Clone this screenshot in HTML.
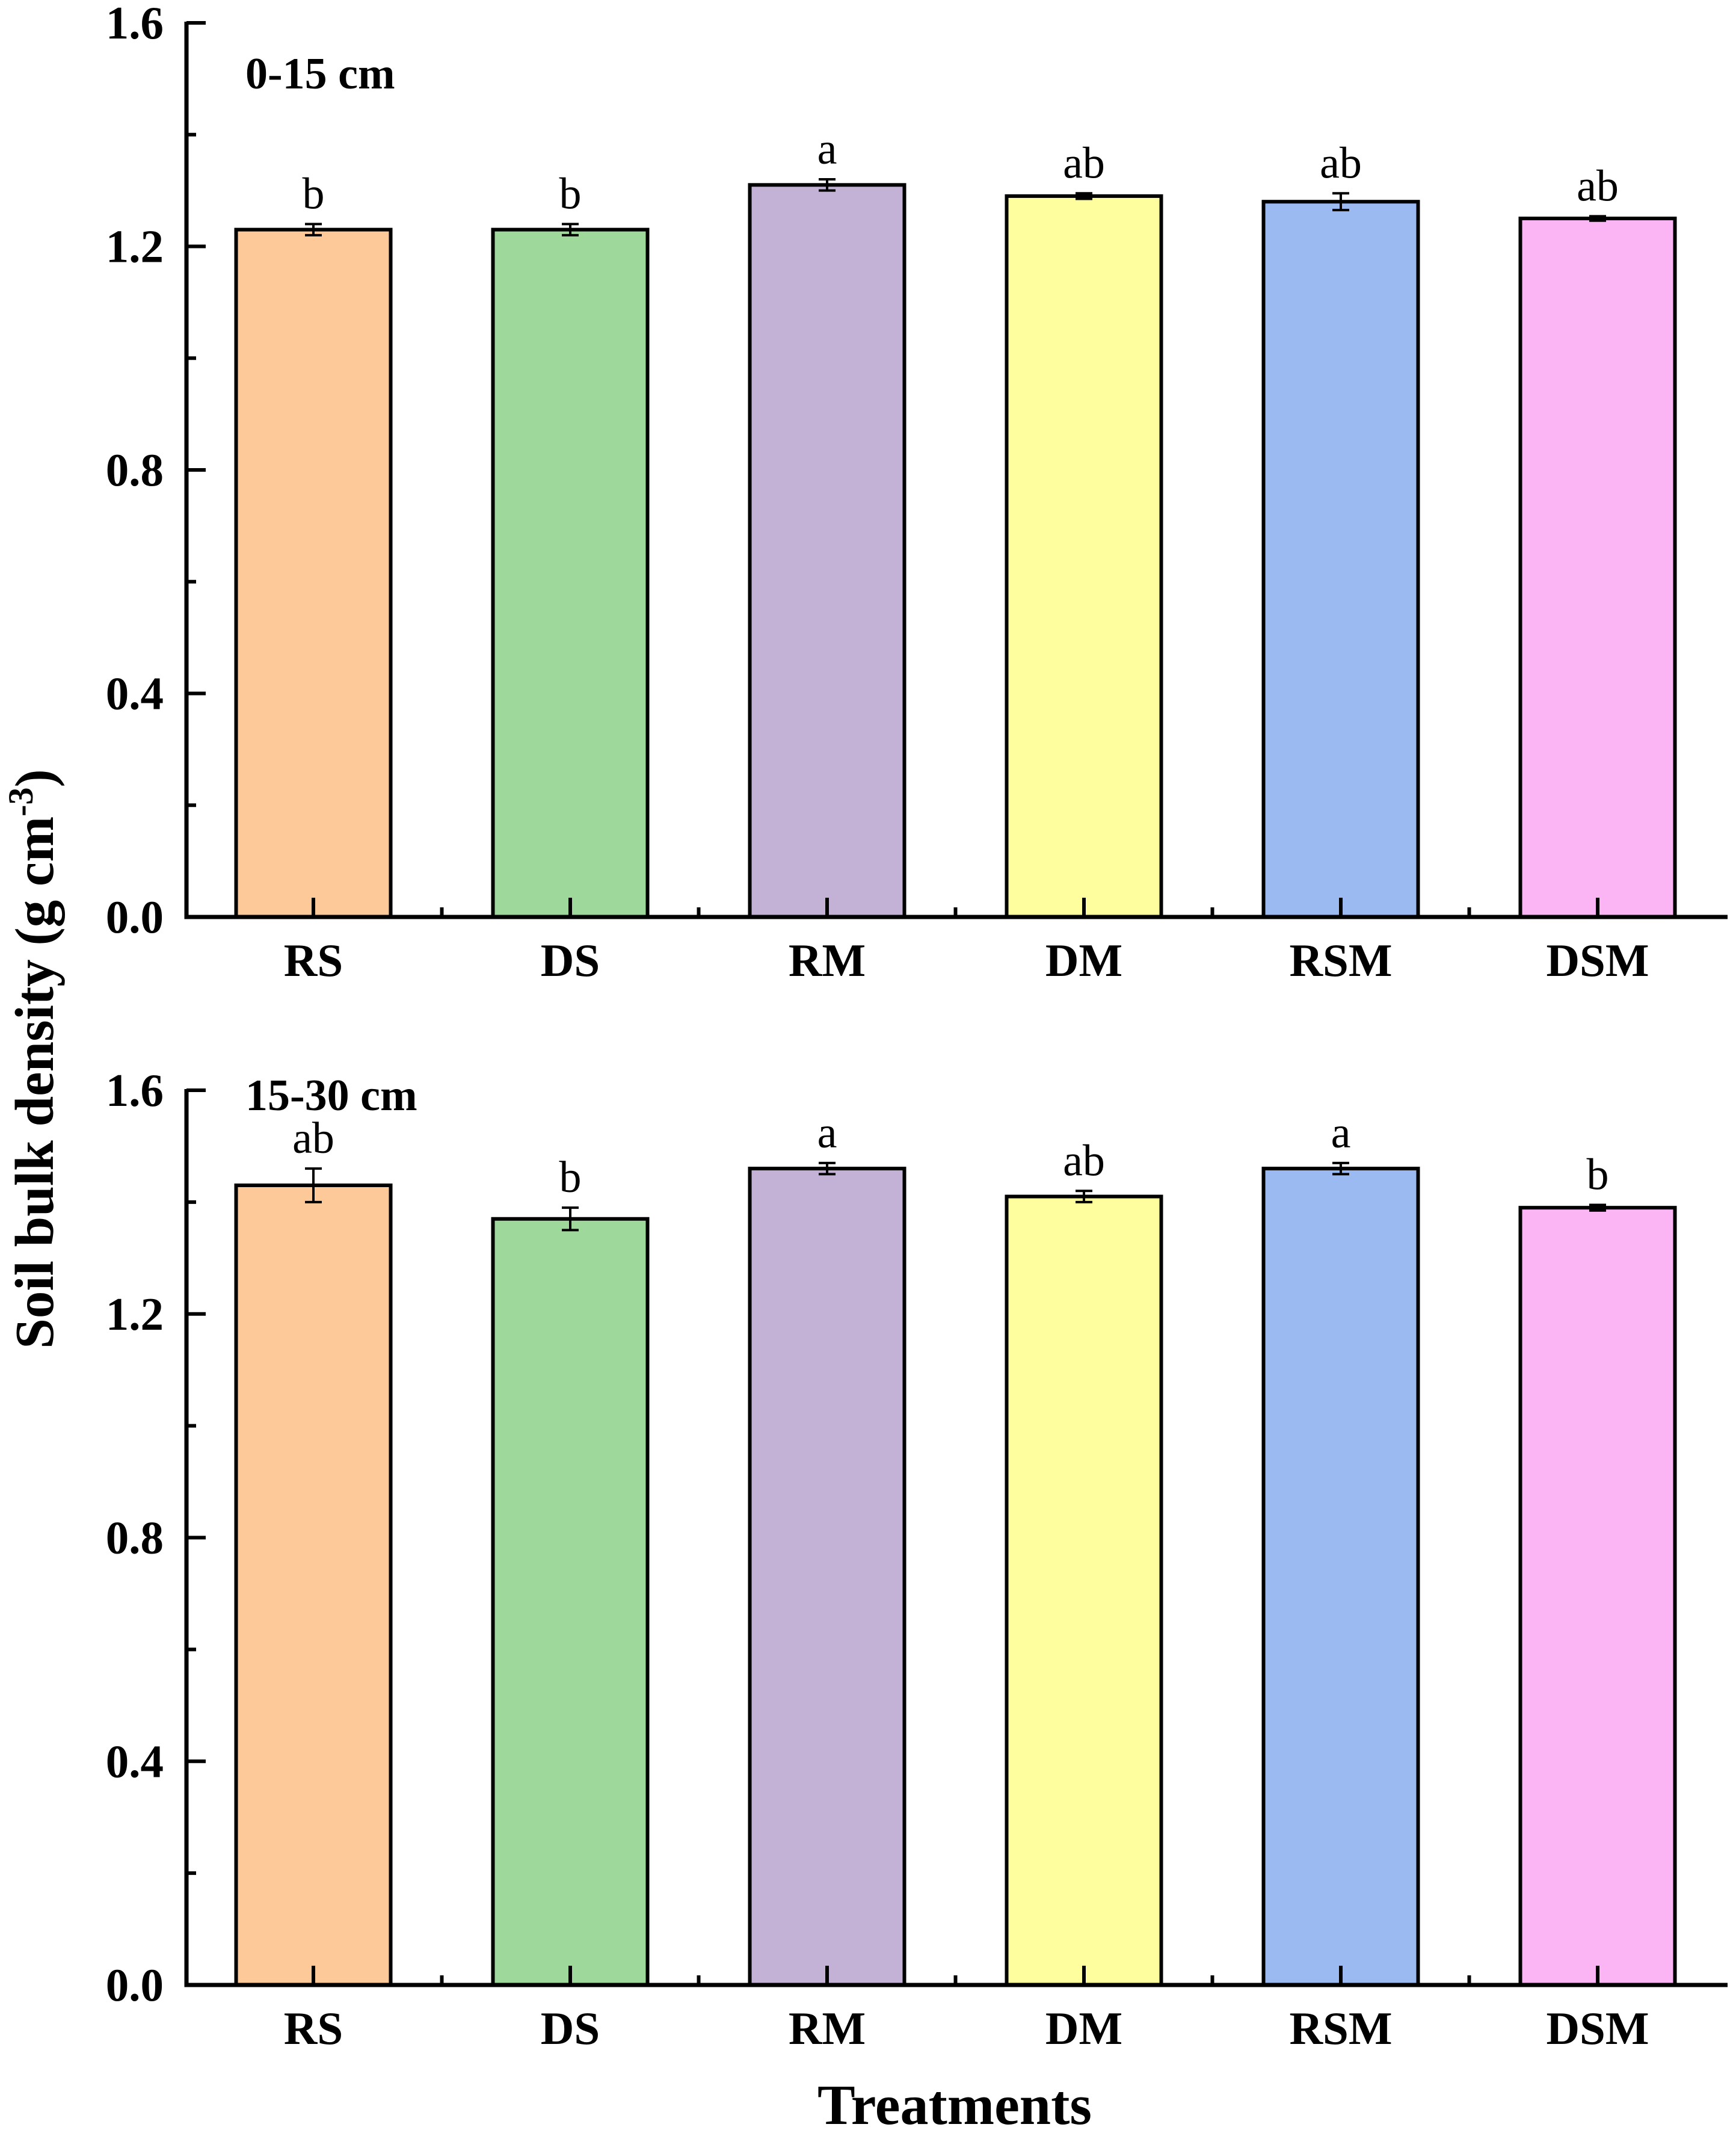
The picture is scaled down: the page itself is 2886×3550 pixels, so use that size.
<!DOCTYPE html>
<html><head><meta charset="utf-8">
<style>
html,body{margin:0;padding:0;background:#fff;}
svg{display:block;}
text{font-family:"Liberation Serif",serif;fill:#000;}
</style></head>
<body>
<svg id="chart" width="2886" height="3550" viewBox="0 0 2886 3550" xmlns="http://www.w3.org/2000/svg">
<text transform="translate(88,1760) rotate(-90)" text-anchor="middle" font-size="91" font-weight="bold">Soil bulk density (g cm<tspan dy="-34" font-size="58">-3</tspan><tspan dy="34">)</tspan></text>
<text x="1587" y="3530" text-anchor="middle" font-size="94" font-weight="bold">Treatments</text>
</svg>
<script>
const categories = ["RS","DS","RM","DM","RSM","DSM"];
const colors = ["#FDC998","#9ED89B","#C3B1D6","#FEFE9E","#9BBAF2","#FBB5F5"];
const topValues = [1.23,1.23,1.31,1.29,1.28,1.25];
const topErrors = [0.01,0.01,0.01,0.005,0.015,0.004];
const topLetters = ["b","b","a","ab","ab","ab"];
const bottomValues = [1.43,1.37,1.46,1.41,1.46,1.39];
const bottomErrors = [0.03,0.02,0.01,0.01,0.01,0.005];
const bottomLetters = ["ab","b","a","ab","a","b"];
const yTicks = [0.0,0.4,0.8,1.2,1.6];
const yTickLabels = ["0.0","0.4","0.8","1.2","1.6"];
const yMinorTicks = [0.2,0.6,1.0,1.4];

const NS = "http://www.w3.org/2000/svg";
const svg = document.getElementById("chart");
function mk(tag, attrs, parent){
  const e = document.createElementNS(NS, tag);
  for (const k in attrs) e.setAttribute(k, attrs[k]);
  (parent||svg).appendChild(e);
  return e;
}
const X0 = 310, X1 = 2872, firstC = 521, step = 427, barW = 257;
function xPos(i){ return firstC + i*step; }

function panel(name, y0, yTop, values, errors, letters, label, labelY){
  const g = mk("g", {});
  
  
  const yS = v => y0 - (v/1.6)*(y0-yTop);
  values.forEach((v,i)=>{
    const cx = xPos(i);
    const r = mk("rect",{x:cx-barW/2,y:yS(v),width:barW,height:y0-yS(v),fill:colors[i],stroke:"#000","stroke-width":6},g);
    
    
    const hi = yS(v+errors[i]), lo = yS(v-errors[i]);
    const eb = mk("path",{d:`M${cx},${hi}V${lo}M${cx-14},${hi}H${cx+14}M${cx-14},${lo}H${cx+14}`,stroke:"#000","stroke-width":4,fill:"none"},g);
    
    
    const t = mk("text",{x:cx,y:hi-26,"text-anchor":"middle","font-size":74},g);
    t.textContent = letters[i];
    
    
    const xl = mk("text",{x:cx,y:y0+98,"text-anchor":"middle","font-size":77,"font-weight":"bold"},g);
    xl.textContent = categories[i];
    
    
    const tk = mk("line",{x1:cx,x2:cx,y1:y0,y2:y0-32,stroke:"#000","stroke-width":6},g);
    
    
    if (i < values.length-1){
      const mt = mk("line",{x1:cx+step/2,x2:cx+step/2,y1:y0,y2:y0-16,stroke:"#000","stroke-width":6},g);
      
      
    }
  });
  yTicks.forEach((v,i)=>{
    const y = yS(v);
    const tk = mk("line",{x1:X0,x2:X0+32,y1:y,y2:y,stroke:"#000","stroke-width":6},g);
    
    
    const tl = mk("text",{x:272,y:y+26,"text-anchor":"end","font-size":77,"font-weight":"bold"},g);
    tl.textContent = yTickLabels[i];
    
    
  });
  yMinorTicks.forEach(v=>{
    const y = yS(v);
    const tk = mk("line",{x1:X0,x2:X0+16,y1:y,y2:y,stroke:"#000","stroke-width":6},g);
    
    
  });
  const ax = mk("path",{d:`M${X0},${yS(1.6)-2}V${y0}H${X1}`,stroke:"#000","stroke-width":7,fill:"none"},g);
  
  
  const pl = mk("text",{x:408,y:labelY,"font-size":74,"font-weight":"bold"},g);
  pl.textContent = label;
  
  
}
panel("top-panel", 1524, 38, topValues, topErrors, topLetters, "0-15 cm", 147);
panel("bottom-panel", 3299, 1812, bottomValues, bottomErrors, bottomLetters, "15-30 cm", 1845);
</script>
</body></html>
